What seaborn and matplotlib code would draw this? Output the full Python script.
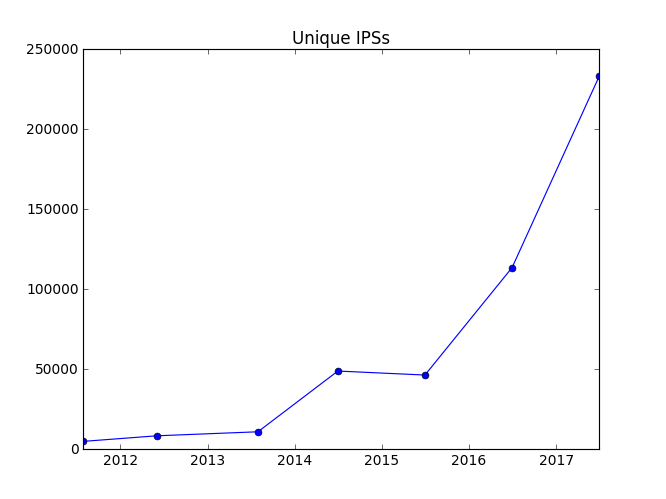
import matplotlib
matplotlib.use("Agg")
import matplotlib.pyplot as plt
import matplotlib.dates as mdates
import pandas as pd
import seaborn as sns

# Data
dates = [
    "2011-07-30",
    "2012-06-03",
    "2013-07-31",
    "2014-07-01",
    "2015-07-01",
    "2016-06-30",
    "2017-07-01",
]
unique_ips = [4800, 8300, 10800, 48800, 46300, 113500, 233500]

df = pd.DataFrame({
    "date": pd.to_datetime(dates),
    "ips": unique_ips,
})

# Old matplotlib look
plt.style.use("classic")

fig, ax = plt.subplots(figsize=(8, 6), dpi=83.25)
fig.patch.set_facecolor("white")

sns.lineplot(
    data=df,
    x="date",
    y="ips",
    color="b",
    marker="o",
    markersize=6,
    markeredgecolor="k",
    markeredgewidth=0.5,
    linewidth=1,
    ax=ax,
)

ax.set_title("Unique IPSs")
ax.set_xlabel("")
ax.set_ylabel("")

ax.set_xlim(df["date"].iloc[0], df["date"].iloc[-1])
ax.set_ylim(0, 250000)
ax.set_yticks(range(0, 250001, 50000))

ax.xaxis.set_major_locator(mdates.YearLocator())
ax.xaxis.set_major_formatter(mdates.DateFormatter("%Y"))

fig.savefig("out.png", dpi=83.25)
